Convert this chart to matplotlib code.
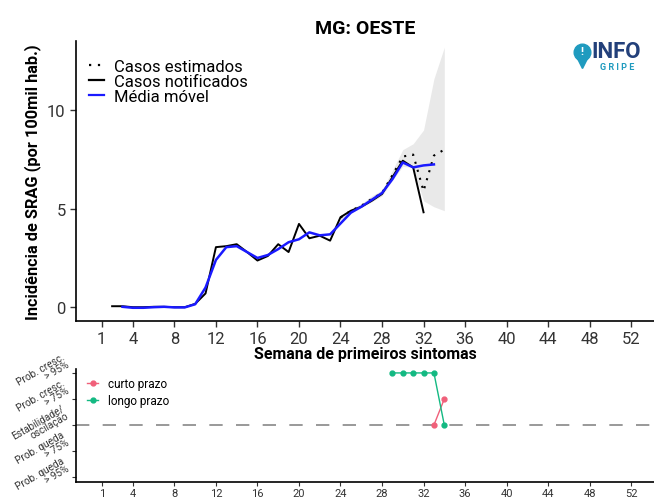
import numpy as np
import matplotlib.pyplot as plt
from matplotlib.lines import Line2D

plt.rcParams['font.family'] = ['Roboto', 'DejaVu Sans']

# casos notificados (semanas 2-32)
wk_notif = np.arange(2, 33)
notif = [0.05, 0.05, 0.0, 0.0, 0.02, 0.02, 0.0, 0.0, 0.17, 0.7,
         3.05, 3.1, 3.2, 2.8, 2.37, 2.6, 3.2, 2.8, 4.23, 3.5,
         3.63, 3.38, 4.57, 4.9, 5.1, 5.4, 5.75, 6.6, 7.44, 7.1, 4.82]

# media movel (semanas 3-33)
wk_mm = np.arange(3, 34)
media = [0.02, -0.03, -0.03, 0.0, 0.02, -0.01, -0.01, 0.15, 1.0, 2.4,
         3.05, 3.1, 2.8, 2.5, 2.65, 2.95, 3.3, 3.45, 3.8, 3.65,
         3.7, 4.25, 4.8, 5.1, 5.45, 5.8, 6.5, 7.35, 7.1, 7.2, 7.25]

# casos estimados + intervalo (semanas 24-34)
wk_est = np.arange(24, 35)
est = [4.55, 4.9, 5.15, 5.5, 5.8, 6.7, 7.65, 7.75, 5.9, 7.7, 8.0]
est_lo = [4.45, 4.8, 5.05, 5.35, 5.65, 6.45, 7.15, 7.1, 5.4, 5.1, 4.9]
est_hi = [4.65, 5.0, 5.25, 5.65, 5.95, 6.95, 8.0, 8.3, 9.0, 11.6, 13.2]

# tendencias
wk_curto = [33, 34]
curto = [0, 1]
wk_longo = [29, 30, 31, 32, 33, 34]
longo = [2, 2, 2, 2, 2, 0]

xticks = [1, 4, 8, 12, 16, 20, 24, 28, 32, 36, 40, 44, 48, 52]
ylev_labels = ['Prob. queda\n> 95%', 'Prob. queda\n> 75%', 'Estabilidade/\noscilação',
               'Prob. cresc.\n> 75%', 'Prob. cresc.\n> 95%']

fig = plt.figure(figsize=(6.54, 5.02), dpi=100)
ax = fig.add_axes([0.1162, 0.3586, 0.8838, 0.5578])
ax2 = fig.add_axes([0.1162, 0.0378, 0.8838, 0.2251])

# main panel
ax.fill_between(wk_est, est_lo, est_hi, color='#a8a8a8', alpha=0.25, lw=0)
ax.plot(wk_est, est, color='black', ls=(0, (1, 3)), lw=1.5)
ax.plot(wk_notif, notif, color='black', lw=1.4)
ax.plot(wk_mm, media, color='#1a1aff', lw=1.8)

ax.set_xlim(-1.48, 54.2)
ax.set_ylim(-0.7, 13.52)
ax.set_xticks(xticks)
ax.set_yticks([0, 5, 10])
ax.tick_params(labelsize=12, length=4, width=1, colors='#333333', labelcolor='#333333')
for s in ['top', 'right']:
    ax.spines[s].set_visible(False)
for s in ['left', 'bottom']:
    ax.spines[s].set_linewidth(1.2)
ax.set_title('MG: OESTE', fontsize=14, fontweight='bold', pad=6)
ax.set_ylabel('Incidência de SRAG (por 100mil hab.)', fontsize=11.8, fontweight='bold', labelpad=4)
ax.set_xlabel('Semana de primeiros sintomas', fontsize=11.5, fontweight='bold', labelpad=0)

handles = [Line2D([], [], color='black', ls=(0, (1, 3)), lw=1.6),
           Line2D([], [], color='black', lw=1.6),
           Line2D([], [], color='#1a1aff', lw=1.6)]
ax.legend(handles, ['Casos estimados', 'Casos notificados', 'Média móvel'],
          loc='upper left', bbox_to_anchor=(0.0, 0.985), frameon=False, fontsize=12,
          handlelength=0.9, handletextpad=0.6, labelspacing=0.0, borderaxespad=0.4)

# logo (pino + texto)
fig.add_artist(Line2D([0.890], [0.872], marker='v', ms=7, color='#1f9bbf',
                      transform=fig.transFigure))
fig.add_artist(Line2D([0.890], [0.895], marker='o', ms=12, color='#1f9bbf',
                      transform=fig.transFigure))
fig.text(0.890, 0.896, '!', color='white', fontsize=8, fontweight='bold', ha='center', va='center')
fig.text(0.905, 0.897, 'INFO', color='#23407a', fontsize=16, fontweight='bold', ha='left', va='center')
fig.text(0.917, 0.866, 'G R I P E', color='#1f9bbf', fontsize=6.5, fontweight='bold', ha='left', va='center')

# trend panel
ax2.axhline(0, color='#888888', ls=(0, (8, 8)), lw=1.2)
ax2.plot(wk_curto, curto, color='#f0607a', marker='o', ms=3.5, lw=1)
ax2.plot(wk_longo, longo, color='#13b982', marker='o', ms=3.5, lw=1)
ax2.set_xlim(-1.48, 54.2)
ax2.set_ylim(-2.19, 2.15)
ax2.set_xticks(xticks)
ax2.set_yticks([-2, -1, 0, 1, 2])
ax2.set_yticklabels(ylev_labels, rotation=30, fontsize=7.2, color='#444444', linespacing=0.9,
                    ha='right', va='center')
ax2.tick_params(axis='x', labelsize=8, length=3, colors='#333333', labelcolor='#333333', pad=1)
ax2.tick_params(axis='y', length=3, colors='#333333', pad=1)
for s in ['top', 'right']:
    ax2.spines[s].set_visible(False)
for s in ['left', 'bottom']:
    ax2.spines[s].set_linewidth(1.2)
h2 = [Line2D([], [], color='#f0607a', marker='o', ms=3.5, lw=1),
      Line2D([], [], color='#13b982', marker='o', ms=3.5, lw=1)]
ax2.legend(h2, ['curto prazo', 'longo prazo'], loc='upper left', bbox_to_anchor=(0.0, 1.02),
           frameon=False, fontsize=8.5, handlelength=1.0, labelspacing=0.3, handletextpad=0.8)

fig.savefig('out.png', dpi=100)
